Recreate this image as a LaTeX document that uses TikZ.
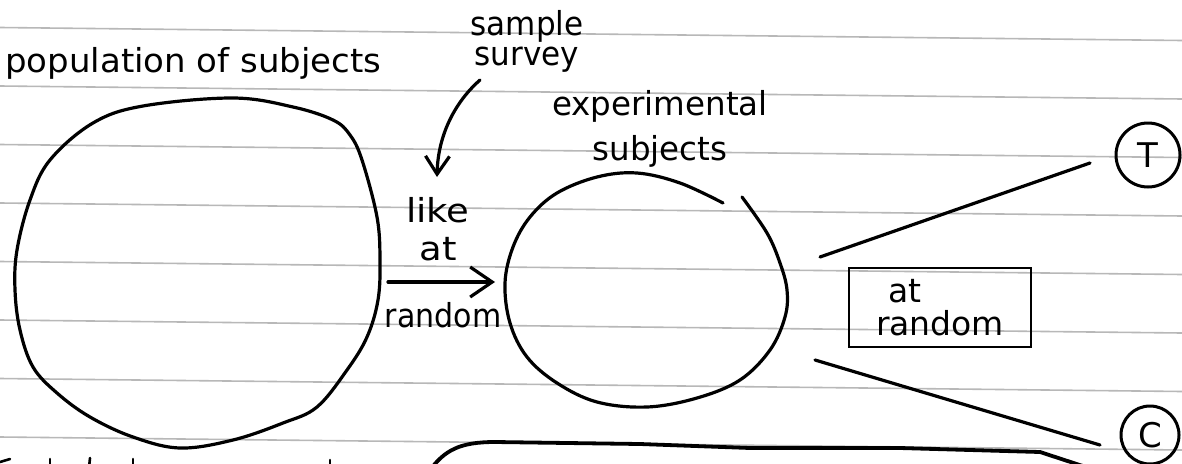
\documentclass[tikz,border=0pt]{standalone}
\usepackage{fontspec}
\setmainfont{DejaVu Sans}
\usetikzlibrary{arrows.meta}
\begin{document}
\begin{tikzpicture}[x=1pt,y=-1pt,
  ink/.style={line width=3.2pt, line cap=round, line join=round, black},
  rulingline/.style={line width=1.6pt, black!28},
  hand/.style={inner sep=0pt, font=\fontsize{33}{40}\selectfont},
  bigtip/.style={-{Straight Barb[length=22pt,width=30pt]}},
  smalltip/.style={-{Straight Barb[length=18pt,width=24pt]}}]
\useasboundingbox (0,0) rectangle (1182,463);
\fill[white] (0,0) rectangle (1182,463);
\clip (0,0) rectangle (1182,463);
% ruled paper
\foreach \y in {27.5,86,144.5,203,261.5,320,378.5,437}
  \draw[rulingline] (0,\y) -- (1182,\y+13);
% population circle
\draw[ink] plot[smooth cycle, tension=0.6] coordinates {(233,98) (293,107) (333,120) (350,135) (362,160) (377,217) (380,260) (378,300) (367,337) (347,370) (317,407) (283,423) (233,440) (180,448) (133,437) (90,417) (57,393) (33,367) (20,330) (15,290) (17,250) (30,200) (50,160) (93,123) (143,106)};
% experimental subjects circle
\draw[ink] plot[smooth, tension=0.6] coordinates {(723,203) (680,183) (637,173) (597,177) (557,193) (530,217) (513,247) (505,283) (510,323) (527,357) (557,383) (597,402) (647,407) (697,398) (740,380) (770,350) (785,317) (787,290) (780,263) (767,233) (742,197)};
% labels
\node[hand, anchor=base west, xscale=1.03] (pop) at (5,72) {population of subjects};
\node[hand, align=center, anchor=base, xscale=0.94, font=\fontsize{33}{30}\selectfont] (ss) at (527,65) {sample\\survey};
\node[hand, align=center, anchor=base, xscale=0.985, font=\fontsize{33}{45}\selectfont] (es) at (660,160) {experimental\\subjects};
\node[hand, align=center, anchor=base, xscale=1.12, font=\fontsize{33}{38}\selectfont] (la) at (438,260) {like\\at};
\node[hand, anchor=base, xscale=0.91] (rnd) at (443,327) {random};
% arrows
\coordinate (ssfrom) at (480,80);
\coordinate (ssto) at (437,177);
\draw[ink, smalltip] (ssfrom) .. controls (455,102) and (438,135) .. (ssto);
\coordinate (popE) at (388,282);
\coordinate (expW) at (495,282);
\draw[ink, bigtip] (popE) -- (expW);
% at random box
\node[draw, line width=2.8pt, minimum width=182pt, minimum height=79pt, inner sep=0pt, align=left, font=\fontsize{33}{33}\selectfont] (box) at (940,307.5) {\hspace*{12pt}at\\random};
% treatment and control
\node[draw, circle, line width=3pt, minimum size=64pt, inner sep=0pt, font=\fontsize{34}{40}\selectfont] (T) at (1148,155) {T};
\node[draw, circle, line width=3pt, minimum size=58pt, inner sep=0pt, font=\fontsize{34}{40}\selectfont] (C) at (1150,435) {C};
\coordinate (tfrom) at (820,257);
\coordinate (tto) at (1090,163);
\draw[ink] (tfrom) -- (tto);
\coordinate (cfrom) at (815,360);
\coordinate (cto) at (1100,445);
\draw[ink] (cfrom) -- (cto);
% bottom shape (cut by page edge)
\draw[ink, line width=3.8pt] (430,470) .. controls (445,450) and (460,442) .. (495,442) -- (640,444) -- (750,448) -- (900,448) -- (1040,452) -- (1095,470);
% tops of the next handwritten line, cut by the page edge
\draw[ink, line width=2.6pt] (0,462) -- (10,459);
\draw[ink, line width=2.6pt] (50,459) -- (50,468);
\draw[ink, line width=2.6pt] (90,458) -- (89,468);
\draw[ink, line width=2.6pt] (133,459) -- (133,468);
\draw[ink, line width=2.6pt] (330,460) -- (330,468);
\end{tikzpicture}
\end{document}
